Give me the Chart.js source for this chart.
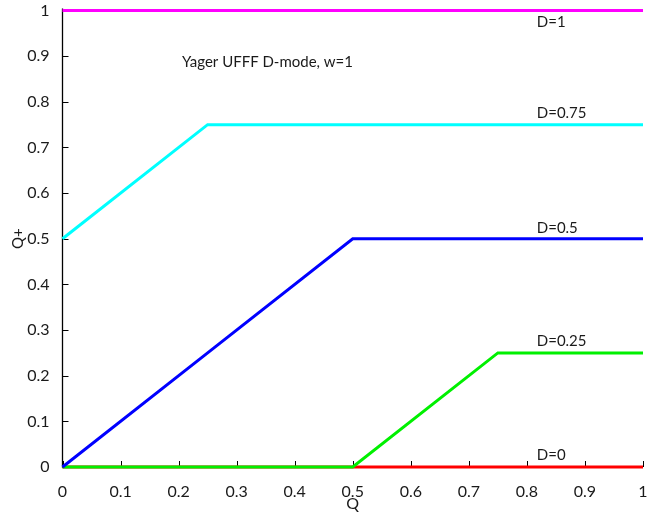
<!DOCTYPE html>
<html>
<head>
<meta charset="utf-8">
<script src="https://cdn.jsdelivr.net/npm/chart.js@4.4.1/dist/chart.umd.min.js"></script>
<style>
  html, body { margin: 0; padding: 0; background: #fff; }
  #wrap { width: 649px; height: 516px; }
</style>
</head>
<body>
<div id="wrap"><canvas id="c" width="649" height="516"></canvas></div>
<script>
// Q values (x) shared by every curve
const qValues = [0, 0.25, 0.5, 0.75, 1];

// Q+ for each degree D
const dLevels = [1, 0.75, 0.5, 0.25, 0];
const qPlusD1   = [1, 1, 1, 1, 1];
const qPlusD075 = [0.5, 0.75, 0.75, 0.75, 0.75];
const qPlusD05  = [0, 0.25, 0.5, 0.5, 0.5];
const qPlusD025 = [0, 0, 0, 0.25, 0.25];
const qPlusD0   = [0, 0, 0, 0, 0];

const curveLabels = ['D=1', 'D=0.75', 'D=0.5', 'D=0.25', 'D=0'];
const chartTitle = 'Yager UFFF D-mode, w=1';

const FONT = 'Lato, "Open Sans", sans-serif';
const TEXT = '#1a1a1a';

function pts(ys) { return qValues.map((q, i) => ({ x: q, y: ys[i] })); }

const curves = [
  { label: curveLabels[0], ys: qPlusD1,   color: '#ff00ff' },
  { label: curveLabels[1], ys: qPlusD075, color: '#00ffff' },
  { label: curveLabels[2], ys: qPlusD05,  color: '#0000ff' },
  { label: curveLabels[3], ys: qPlusD025, color: '#00f000' },
  { label: curveLabels[4], ys: qPlusD0,   color: '#ff0000' }
];

// Caption placement in data units: the top caption sits under its line, the rest above
const captionQ = 0.817;
const captionOffset = [-0.025, 0.026, 0.024, 0.026, 0.026];
const titleAt = { q: 0.206, qPlus: 0.887 };

// Axis lines with inward tick marks, plus the curve captions and chart title
const decorations = {
  id: 'decorations',
  beforeDatasetsDraw(chart) {
    const { ctx, chartArea: a, scales: { x, y } } = chart;
    ctx.save();
    ctx.strokeStyle = '#000';
    ctx.lineWidth = 1.3;
    ctx.beginPath();
    ctx.moveTo(a.left, a.top - 2);
    ctx.lineTo(a.left, a.bottom);
    ctx.lineTo(a.right, a.bottom);
    ctx.stroke();
    ctx.lineWidth = 1;
    ctx.beginPath();
    x.ticks.forEach(t => {
      const px = Math.round(x.getPixelForValue(t.value)) + 0.5;
      ctx.moveTo(px, a.bottom);
      ctx.lineTo(px, a.bottom - 6);
    });
    y.ticks.forEach(t => {
      const py = Math.round(y.getPixelForValue(t.value)) + 0.5;
      ctx.moveTo(a.left, py);
      ctx.lineTo(a.left + 6, py);
    });
    ctx.stroke();
    ctx.restore();
  },
  afterDatasetsDraw(chart) {
    const { ctx, scales: { x, y } } = chart;
    ctx.save();
    ctx.fillStyle = TEXT;
    ctx.font = '15px ' + FONT;
    ctx.textAlign = 'left';
    ctx.textBaseline = 'middle';
    dLevels.forEach((d, i) => {
      ctx.fillText(curveLabels[i], x.getPixelForValue(captionQ), y.getPixelForValue(d + captionOffset[i]));
    });
    ctx.fillText(chartTitle, x.getPixelForValue(titleAt.q), y.getPixelForValue(titleAt.qPlus));
    ctx.restore();
  }
};

const tickFmt = v => String(Math.round(v * 10) / 10);

new Chart(document.getElementById('c'), {
  type: 'line',
  data: {
    datasets: curves.map(c => ({
      label: c.label,
      data: pts(c.ys),
      borderColor: c.color,
      backgroundColor: c.color,
      borderWidth: 3,
      pointRadius: 0,
      tension: 0,
      clip: 6
    }))
  },
  options: {
    responsive: false,
    animation: false,
    layout: { padding: { top: 10.5, right: 6, left: 0, bottom: 0 } },
    plugins: { legend: { display: false }, tooltip: { enabled: false } },
    scales: {
      x: {
        type: 'linear', min: 0, max: 1,
        ticks: { stepSize: 0.1, callback: tickFmt, color: TEXT, font: { family: FONT, size: 16 }, padding: 7, maxRotation: 0 },
        grid: { display: false },
        border: { display: false },
        title: { display: true, text: 'Q', color: TEXT, font: { family: FONT, size: 16 }, padding: { top: 4, bottom: 3 } },
        afterFit(s) { s.height = 49; s.paddingLeft = 0; s.paddingRight = 0; }
      },
      y: {
        type: 'linear', min: 0, max: 1,
        ticks: { stepSize: 0.1, callback: tickFmt, color: TEXT, font: { family: FONT, size: 16 }, padding: 5 },
        grid: { display: false },
        border: { display: false },
        title: { display: true, text: 'Q+', color: TEXT, font: { family: FONT, size: 15 }, padding: { top: 9, bottom: 4 } },
        afterFit(s) { s.width = 62.5; s.paddingTop = 0; s.paddingBottom = 0; }
      }
    }
  },
  plugins: [decorations]
});
</script>
</body>
</html>
